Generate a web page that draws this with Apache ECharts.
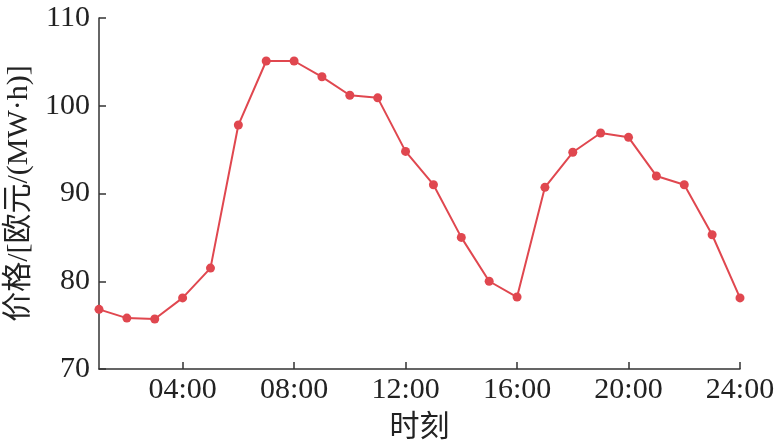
<!DOCTYPE html>
<html>
<head>
<meta charset="utf-8">
<script src="https://cdn.jsdelivr.net/npm/echarts@6/dist/echarts.min.js"></script>
<style>
  html, body { margin: 0; padding: 0; background: #fff; }
  #chart { width: 780px; height: 444px; }
</style>
</head>
<body>
<div id="chart"></div>
<script>
// 时刻 1..24
const hours = ['01:00', '02:00', '03:00', '04:00', '05:00', '06:00', '07:00', '08:00',
  '09:00', '10:00', '11:00', '12:00', '13:00', '14:00', '15:00', '16:00',
  '17:00', '18:00', '19:00', '20:00', '21:00', '22:00', '23:00', '24:00']
// 价格 欧元/(MW·h)
const price = [76.8, 75.8, 75.7, 78.1, 81.5, 97.8, 105.1, 105.1,
  103.3, 101.2, 100.9, 94.8, 91.0, 85.0, 80.0, 78.2,
  90.7, 94.7, 96.9, 96.4, 92.0, 91.0, 85.3, 78.1]
const yTicks = [70, 80, 90, 100, 110]

const serif = '"Liberation Serif", "Noto Sans CJK SC", serif'
const axisColor = '#333'

const myChart = echarts.init(document.getElementById('chart'))
const options = {
  backgroundColor: '#fff',
  animation: false,
  grid: { left: 99, right: 40, top: 18, bottom: 75, containLabel: false, outerBoundsMode: 'none' },
  xAxis: {
    type: 'category',
    boundaryGap: false,
    data: hours,
    name: '时刻',
    nameLocation: 'middle',
    nameGap: 44,
    nameTextStyle: { fontFamily: serif, fontSize: 30, color: '#222' },
    axisLine: { lineStyle: { color: axisColor, width: 1.5 } },
    axisTick: {
      inside: true, length: 7,
      lineStyle: { color: axisColor, width: 1.5 },
      interval: (i) => (i + 1) % 4 === 0
    },
    axisLabel: {
      fontFamily: serif, fontSize: 30, color: '#222', margin: 6,
      interval: (i) => (i + 1) % 4 === 0
    },
    splitLine: { show: false }
  },
  yAxis: {
    type: 'value',
    min: yTicks[0],
    max: yTicks[yTicks.length - 1],
    interval: 10,
    name: '价格/[欧元/(MW·h)]',
    nameLocation: 'middle',
    nameGap: 56,
    nameTextStyle: { fontFamily: serif, fontSize: 30, color: '#222' },
    axisLine: { show: true, lineStyle: { color: axisColor, width: 1.5 } },
    axisTick: { show: true, inside: true, length: 7, lineStyle: { color: axisColor, width: 1.5 } },
    axisLabel: { fontFamily: serif, fontSize: 30, color: '#222', margin: 9 },
    splitLine: { show: false }
  },
  series: [
    {
      name: '价格',
      type: 'line',
      data: price,
      symbol: 'circle',
      symbolSize: 9,
      itemStyle: { color: '#e0474f' },
      lineStyle: { color: '#e0474f', width: 2 }
    }
  ]
}
myChart.setOption(options)
</script>
</body>
</html>
